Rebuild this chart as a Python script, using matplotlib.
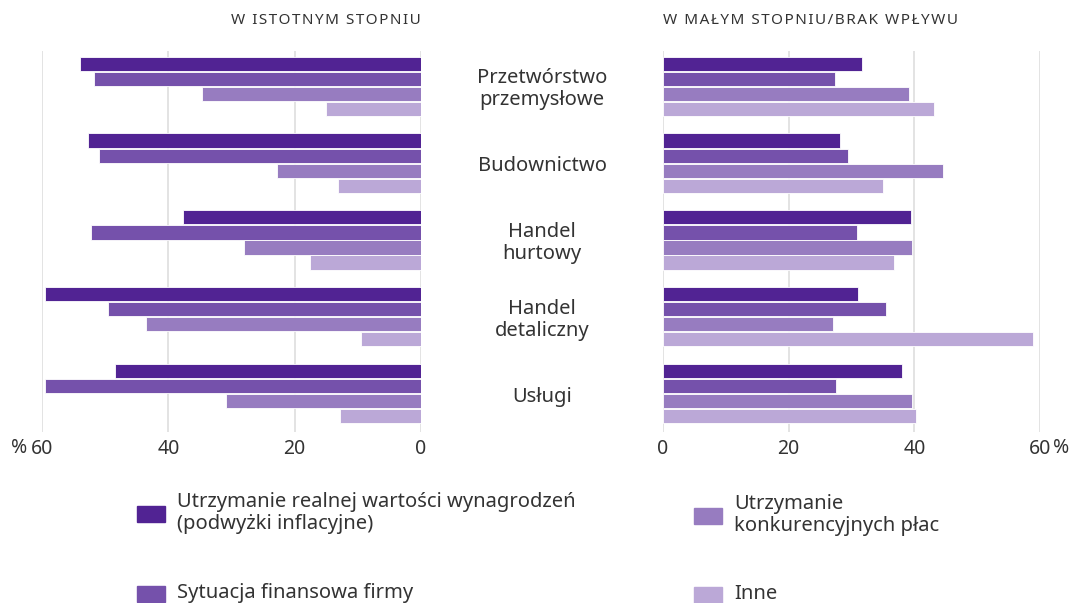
import matplotlib
matplotlib.use("Agg")
import matplotlib.pyplot as plt
from matplotlib.patches import Rectangle
import numpy as np

plt.rcParams['font.family'] = ['Noto Sans', 'DejaVu Sans']

categories = ["Przetwórstwo\nprzemysłowe", "Budownictwo", "Handel\nhurtowy", "Handel\ndetaliczny", "Usługi"]
series_names = ["Utrzymanie realnej wartości wynagrodzeń\n(podwyżki inflacyjne)",
                "Sytuacja finansowa firmy",
                "Utrzymanie\nkonkurencyjnych płac",
                "Inne"]
# W istotnym stopniu (left panel)
left_values = [
    [54.0, 52.7, 37.7, 59.5, 48.4],   # Utrzymanie realnej wartości wynagrodzeń
    [51.8, 51.0, 52.3, 49.5, 59.5],   # Sytuacja finansowa firmy
    [34.6, 22.8, 28.1, 43.6, 30.8],   # Utrzymanie konkurencyjnych płac
    [15.0, 13.1, 17.5, 9.5, 12.9],    # Inne
]
# W małym stopniu / brak wpływu (right panel)
right_values = [
    [31.7, 28.2, 39.4, 31.0, 38.1],
    [27.4, 29.5, 30.9, 35.5, 27.5],
    [39.1, 44.6, 39.6, 27.1, 39.7],
    [43.1, 35.0, 36.8, 58.9, 40.2],
]
left_ticks = [60, 40, 20, 0]
left_ticklabels = ["60", "40", "20", "0"]
right_ticks = [0, 20, 40, 60]
right_ticklabels = ["0", "20", "40", "60"]
title_left = "W ISTOTNYM STOPNIU"
title_right = "W MAŁYM STOPNIU/BRAK WPŁYWU"
colors = ["#512393", "#7551ab", "#977cc0", "#bba8d7"]

W, H = 1073, 603
fig = plt.figure(figsize=(W / 100, H / 100), dpi=100)

def fx(px):
    return px / W

def fy(py):
    return 1 - py / H

def spaced(s):
    return "\u200a".join(s)

top, bottom = 51, 432
axL = fig.add_axes([fx(42), fy(bottom), fx(421 - 42), (bottom - top) / H])
axR = fig.add_axes([fx(663), fy(bottom), fx(1040 - 663), (bottom - top) / H])

n = len(categories)
y = np.arange(n)
pitch = 0.196
bh = 0.185
for ax, vals in ((axL, left_values), (axR, right_values)):
    for j, v in enumerate(vals):
        ax.barh(y + (j - 1.5) * pitch, v, height=bh, color=colors[j],
                edgecolor="white", linewidth=0.6, zorder=3)
    ax.set_ylim(4.5, -0.46)
    ax.set_yticks([])
    for s in ax.spines.values():
        s.set_visible(False)
    ax.grid(axis="x", color="#e3e3e3", linewidth=1.4, zorder=0)
    ax.tick_params(axis="x", length=0, pad=5, labelsize=14, labelcolor="#333333")

axL.set_xlim(60, 0)
axL.set_xticks(left_ticks)
axL.set_xticklabels(left_ticklabels)
axR.set_xlim(0, 60)
axR.set_xticks(right_ticks)
axR.set_xticklabels(right_ticklabels)

# percent signs
fig.text(fx(27), fy(448), "%", ha="right", va="center", fontsize=14, color="#333333")
fig.text(fx(1053), fy(448), "%", ha="left", va="center", fontsize=14, color="#333333")

# category labels in the middle
for i, c in enumerate(categories):
    yc = axL.transData.transform((0, i))[1] - 3
    fig.text(fx(542), yc / fig.dpi / fig.get_figheight(), c, ha="center", va="center",
             fontsize=14.5, color="#333333", linespacing=1.15)

# panel titles
fig.text(fx(421), fy(21), spaced(title_left), ha="right", va="center",
         fontsize=11, color="#333333")
fig.text(fx(663), fy(21), spaced(title_right), ha="left", va="center",
         fontsize=11, color="#333333")

# legend
leg_pos = [(137, 514), (137, 594), (694, 516), (694, 595)]
for j, (px, py) in enumerate(leg_pos):
    fig.patches.append(Rectangle((fx(px), fy(py + 8)), fx(28), 16 / H,
                                 transform=fig.transFigure, color=colors[j]))
    fig.text(fx(px + 40), fy(py - 1), series_names[j], ha="left", va="center",
             fontsize=14.5, color="#333333", linespacing=1.08)

fig.savefig("out.png", dpi=100)
